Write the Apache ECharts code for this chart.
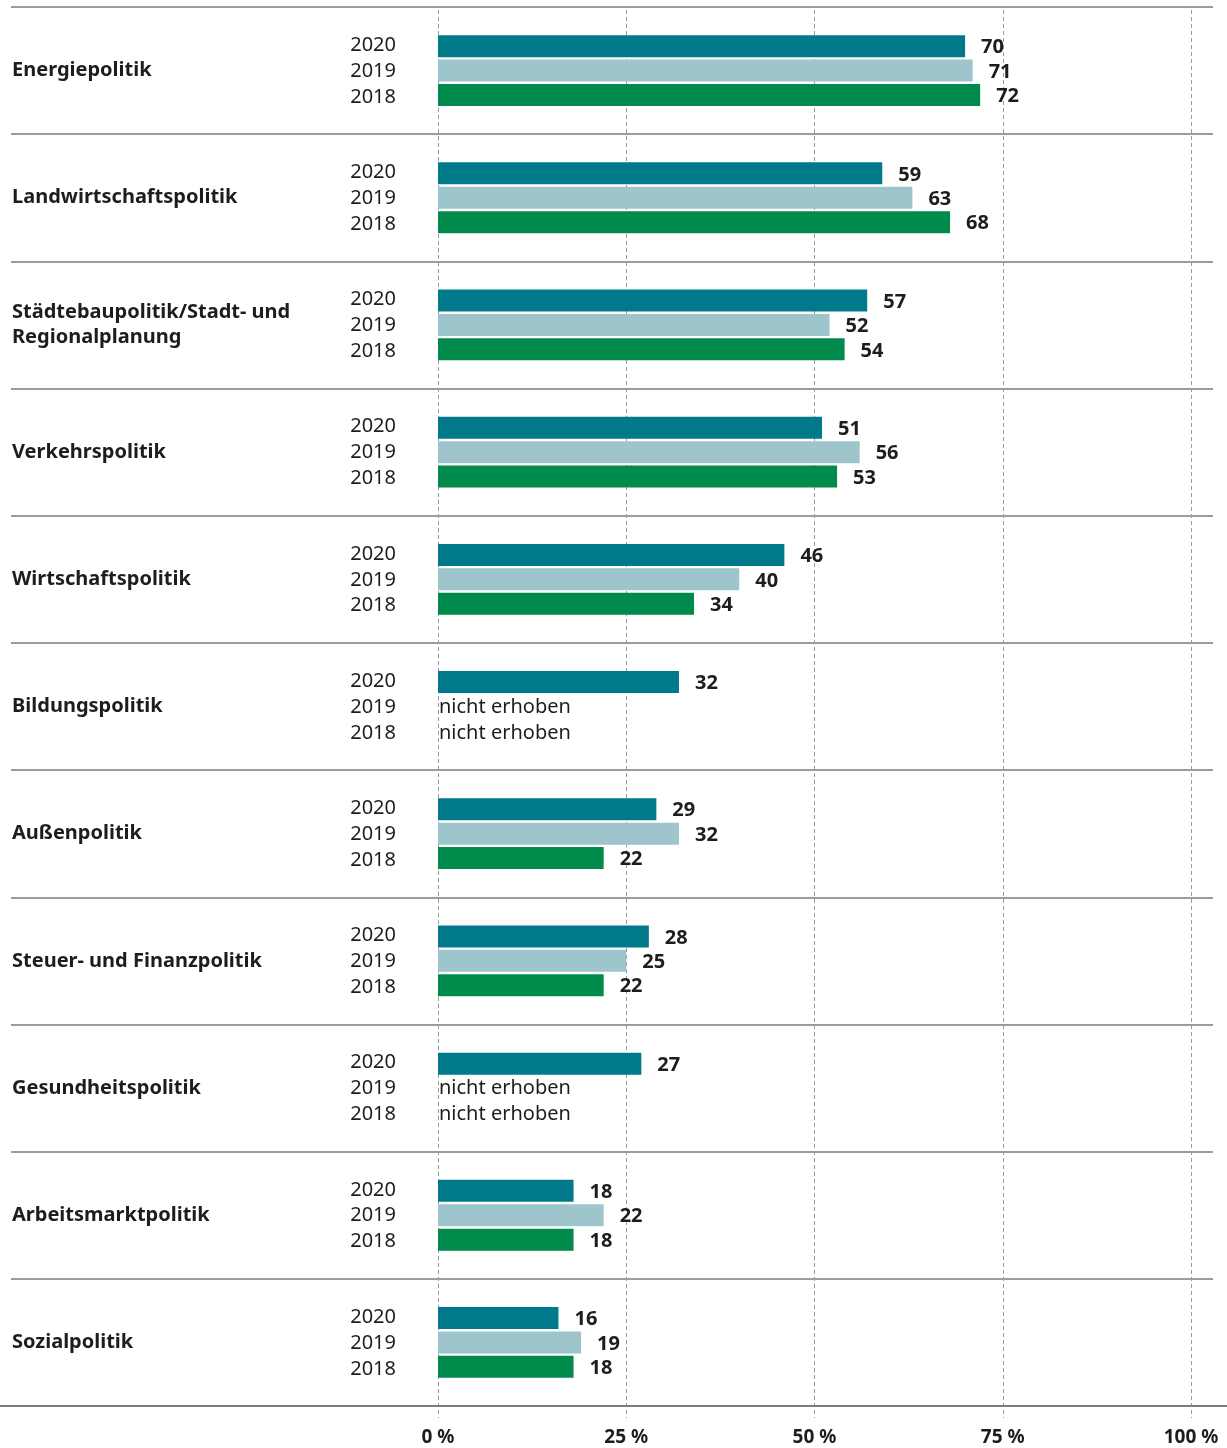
<!DOCTYPE html>
<html>
<head>
<meta charset="utf-8">
<script src="https://cdn.jsdelivr.net/npm/echarts@6/dist/echarts.min.js"></script>
<style>
  html, body { margin: 0; padding: 0; background: #fff; }
  #chart { width: 1227px; height: 1448px; }
</style>
</head>
<body>
<div id="chart"></div>
<script>
// categories, top to bottom
const categories = [
  'Energiepolitik',
  'Landwirtschaftspolitik',
  'Städtebaupolitik/Stadt- und\nRegionalplanung',
  'Verkehrspolitik',
  'Wirtschaftspolitik',
  'Bildungspolitik',
  'Außenpolitik',
  'Steuer- und Finanzpolitik',
  'Gesundheitspolitik',
  'Arbeitsmarktpolitik',
  'Sozialpolitik'
]
const years = ['2020', '2019', '2018']
// null = nicht erhoben
const values2020 = [70, 59, 57, 51, 46, 32, 29, 28, 27, 18, 16]
const values2019 = [71, 63, 52, 56, 40, null, 32, 25, null, 22, 19]
const values2018 = [72, 68, 54, 53, 34, null, 22, 22, null, 18, 18]
const xTicks = { min: 0, max: 100, interval: 25 }
const missingText = 'nicht erhoben'

const seriesValues = [values2020, values2019, values2018]
const colors = ['#007a8a', '#9ec5cc', '#008a4b']
const yearShift = [-1, 0.5, 2] // year labels sit a bit wider apart than the bars
const textColor = '#1d1d1b'
const lineColor = '#757e83'
const font = '"Noto Sans", sans-serif'

const chart = echarts.init(document.getElementById('chart'))

const series = []
years.forEach((year, i) => {
  // invisible base of the stack, only carries the year label
  series.push({
    type: 'bar',
    name: 'label' + year,
    stack: 's' + year,
    xAxisIndex: 3,
    yAxisIndex: 3,
    barWidth: 22,
    barGap: '11%',
    silent: true,
    itemStyle: { color: 'transparent' },
    label: {
      show: true,
      position: 'left',
      distance: 42,
      offset: [0, yearShift[i]],
      formatter: year,
      fontFamily: font,
      fontSize: 20,
      color: textColor
    },
    data: categories.map(() => 0)
  })
  series.push({
    type: 'bar',
    name: year,
    stack: 's' + year,
    xAxisIndex: 3,
    yAxisIndex: 3,
    barWidth: 22,
    barGap: '11%',
    itemStyle: { color: colors[i] },
    label: {
      show: true,
      position: 'right',
      distance: 16,
      offset: [0, 1.5],
      fontFamily: font,
      fontSize: 20,
      fontWeight: 'bold',
      color: textColor
    },
    data: seriesValues[i].map(v => v === null
      ? { value: 0, label: { formatter: missingText, fontWeight: 'normal', distance: 1, offset: [0, yearShift[i]] } }
      : v)
  })
})

chart.setOption({
  animation: false,
  textStyle: { fontFamily: font },
  grid: [
    // separators + category names
    { left: 11, right: 14, top: 7, bottom: 42 },
    // bottom rule, full width
    { left: 0, right: 0, top: 7, bottom: 42 },
    // dashed lines + percent labels
    { left: 438, right: 36, top: 10, bottom: 30 },
    // bars
    { left: 438, right: 36, top: 7, bottom: 42 }
  ],
  xAxis: [
    { gridIndex: 0, type: 'value', show: false },
    {
      gridIndex: 1, type: 'value', min: 0, max: 1,
      axisLine: { show: true, lineStyle: { color: lineColor, width: 2 } },
      axisTick: { show: false },
      axisLabel: { show: false },
      splitLine: { show: false }
    },
    {
      gridIndex: 2, type: 'value',
      min: xTicks.min, max: xTicks.max, interval: xTicks.interval,
      axisLine: { show: false },
      axisTick: { show: false },
      axisLabel: {
        formatter: '{value} %',
        margin: 10,
        fontFamily: font,
        fontSize: 19,
        fontWeight: 'bold',
        color: textColor
      },
      splitLine: { show: true, lineStyle: { color: '#969ca1', width: 1, type: [4, 3] } }
    },
    { gridIndex: 3, type: 'value', min: xTicks.min, max: xTicks.max, show: false }
  ],
  yAxis: [
    {
      gridIndex: 0, type: 'category', inverse: true, data: categories,
      axisLine: { show: false },
      axisTick: { show: false },
      axisLabel: {
        inside: true,
        margin: 1,
        align: 'left',
        fontFamily: font,
        fontSize: 20,
        fontWeight: 'bold',
        lineHeight: 25,
        color: textColor
      },
      splitLine: { show: true, lineStyle: { color: lineColor, width: 1.5 } }
    },
    { gridIndex: 1, type: 'value', show: false },
    { gridIndex: 2, type: 'value', show: false },
    { gridIndex: 3, type: 'category', inverse: true, data: categories, show: false }
  ],
  series: series
})
</script>
</body>
</html>
